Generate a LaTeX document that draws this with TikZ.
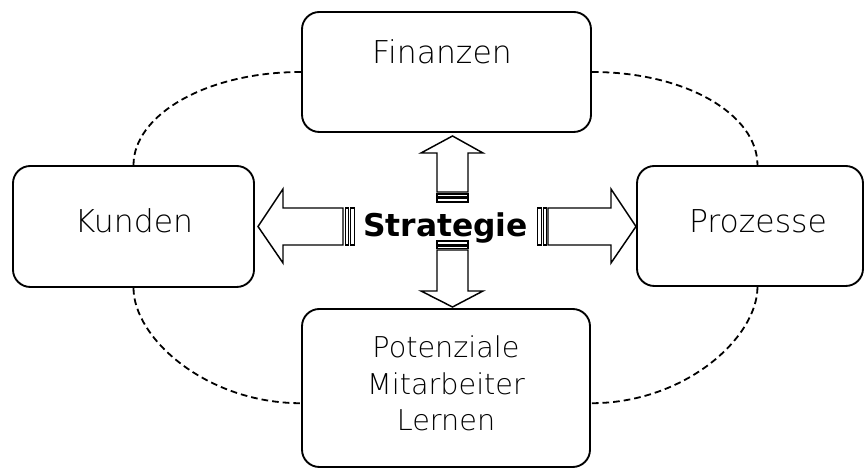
\documentclass[tikz,border=0pt]{standalone}
\usepackage{fontspec}
\newfontfamily\lblfont{DejaVu Sans ExtraLight}
\newfontfamily\stratfont{DejaVu Sans}
\tikzset{
    box/.style={draw, line width=1.4pt, rounded corners=13pt, fill=white, inner sep=0pt},
    lbl/.style={inner sep=0pt, anchor=base, font=\lblfont\fontsize{23.6}{27.4}\selectfont},
    ringline/.style={line width=1.35pt, dash pattern=on 5pt off 3pt},
    blockarrow/.style={draw, line width=1.1pt, fill=white, line join=miter},
}
\begin{document}
\begin{tikzpicture}[x=0.75pt, y=0.75pt]
    \useasboundingbox (0,0) rectangle (867,470);

    % boxes
    \node[box, minimum width=216.75pt, minimum height=90pt] (fin) at (446.5,398) {};
    \node[box, minimum width=180.75pt, minimum height=90.75pt] (kun) at (133.5,243.5) {};
    \node[box, minimum width=169.5pt, minimum height=90pt] (proz) at (750,244) {};
    \node[box, minimum width=216pt, minimum height=118.5pt] (pot) at (446,82) {};

    % texts
    \node[lbl] (fintext) at (442,406) {Finanzen};
    \node[lbl] (kuntext) at (134,237) {Kunden};
    \node[lbl] (proztext) at (758,237) {Prozesse};
    \node[lbl, anchor=center, align=center, font=\lblfont\fontsize{21.5}{27.4}\selectfont] (pottext) at (446,86.5) {Potenziale\\Mitarbeiter\\Lernen};
    \node[inner sep=0pt, anchor=base, font=\stratfont\bfseries\fontsize{23.5}{28}\selectfont] (strat) at (445.5,233) {Strategie};

    % dashed ring
    \draw[ringline] (fin.west) .. controls +(-95,0) and +(0,50) .. (kun.north);
    \draw[ringline] (fin.east) .. controls +(95,0) and +(0,50) .. (proz.83);
    \draw[ringline] (kun.south) .. controls +(0,-50) and +(-95,0) .. (pot.186);
    \draw[ringline] (proz.277) .. controls +(0,-50) and +(95,0) .. (pot.354);

    % arrows
    \draw[blockarrow] (452.5,334) -- (483,317) -- (468,317) -- (468,278) -- (437,278) -- (437,317) -- (421,317) -- cycle;
    \draw[blockarrow] (437,276) rectangle (468,273);
    \draw[blockarrow] (437,271.5) rectangle (468,268);

    \draw[blockarrow] (452.5,163) -- (483,179) -- (468,179) -- (468,220) -- (437,220) -- (437,179) -- (421,179) -- cycle;
    \draw[blockarrow] (437,229) rectangle (468,225.5);
    \draw[blockarrow] (437,224) rectangle (468,221.5);

    \draw[blockarrow] (258,243.5) -- (283,281) -- (283,262) -- (343,262) -- (343,225) -- (283,225) -- (283,207) -- cycle;
    \draw[blockarrow] (345.5,262) rectangle (348.5,225);
    \draw[blockarrow] (350.5,262) rectangle (354.5,225);

    \draw[blockarrow] (636,243.5) -- (611,281) -- (611,262) -- (548,262) -- (548,225) -- (611,225) -- (611,207) -- cycle;
    \draw[blockarrow] (546.5,262) rectangle (543.5,225);
    \draw[blockarrow] (541.5,262) rectangle (537.5,225);
\end{tikzpicture}
\end{document}
